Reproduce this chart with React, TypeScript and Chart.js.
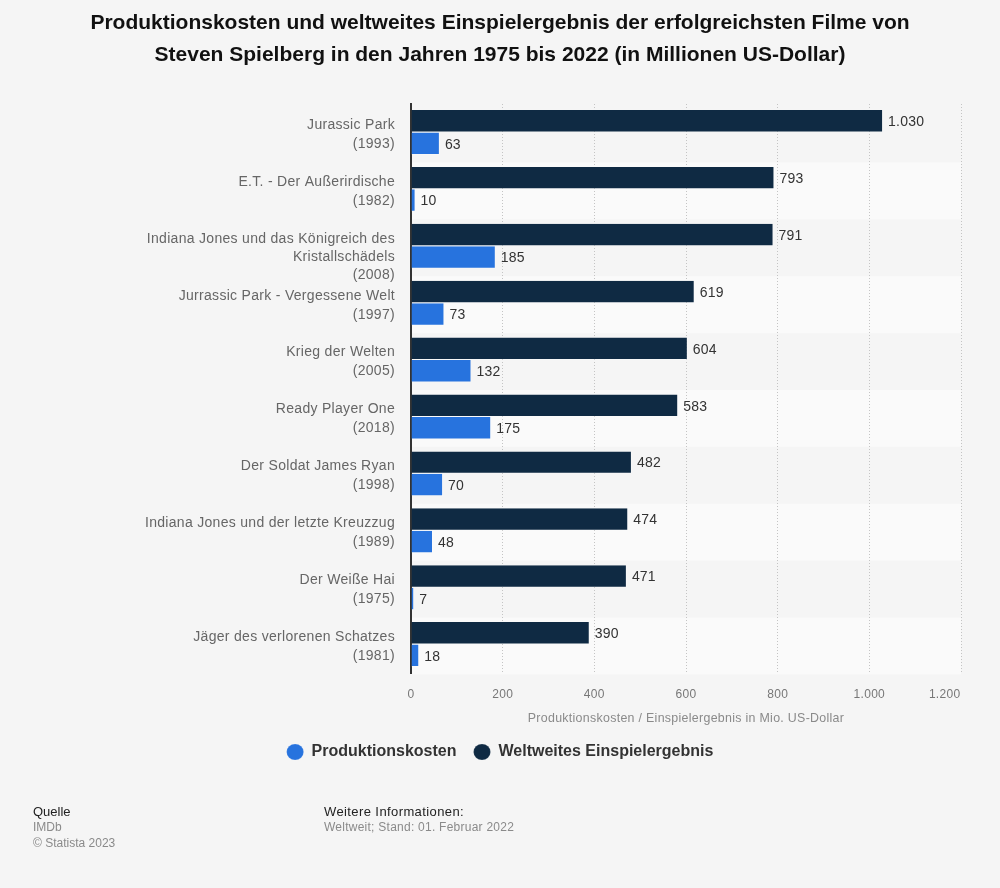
import React, { useEffect, useRef } from 'react';
import Chart from 'chart.js/auto';

const titleLines = [
    'Produktionskosten und weltweites Einspielergebnis der erfolgreichsten Filme von',
    'Steven Spielberg in den Jahren 1975 bis 2022 (in Millionen US-Dollar)',
];
const films = [
    ['Jurassic Park', '(1993)'],
    ['E.T. - Der Außerirdische', '(1982)'],
    // leading empty line: the reference hangs this label from the top of its row
    ['', 'Indiana Jones und das Königreich des', 'Kristallschädels', '(2008)'],
    ['Jurrassic Park - Vergessene Welt', '(1997)'],
    ['Krieg der Welten', '(2005)'],
    ['Ready Player One', '(2018)'],
    ['Der Soldat James Ryan', '(1998)'],
    ['Indiana Jones und der letzte Kreuzzug', '(1989)'],
    ['Der Weiße Hai', '(1975)'],
    ['Jäger des verlorenen Schatzes', '(1981)'],
];
const einspielergebnis = [1030, 793, 791, 619, 604, 583, 482, 474, 471, 390];
const produktionskosten = [63, 10, 185, 73, 132, 175, 70, 48, 7, 18];
const xTicks = [0, 200, 400, 600, 800, 1000, 1200];

const TRACKING = '0.3px';
const formatDe = (v: number) => String(v).replace(/\B(?=(\d{3})+$)/g, '.');

// axis text runs a little wider than plain canvas text, title and legend don't
const trackingPlugin = {
    id: 'tracking',
    beforeLayout(chart: any) {
        const ctx = chart.ctx;
        ctx.letterSpacing = TRACKING;
        [chart.titleBlock, chart.legend].forEach((box: any) => {
            if (!box || box.__tracked) return;
            box.__tracked = true;
            ['fit', 'draw'].forEach((fn) => {
                const orig = box[fn];
                box[fn] = function (...args: any[]) {
                    ctx.letterSpacing = '0px';
                    const res = orig.apply(this, args);
                    ctx.letterSpacing = TRACKING;
                    return res;
                };
            });
        });
    },
};

// alternating row backgrounds behind the grid
const bandsPlugin = {
    id: 'bands',
    beforeDraw(chart: any) {
        const { ctx, chartArea, scales } = chart;
        const y = scales.y;
        const step = y.getPixelForValue(1) - y.getPixelForValue(0);
        ctx.save();
        ctx.fillStyle = '#fafafa';
        films.forEach((_, i) => {
            if (i % 2 === 1) {
                ctx.fillRect(chartArea.left, y.getPixelForValue(i) - step / 2 + 1.5, chartArea.width, step);
            }
        });
        ctx.restore();
    },
};

// value labels at the end of each bar
const valueLabels = {
    id: 'valueLabels',
    afterDatasetsDraw(chart: any) {
        const { ctx } = chart;
        ctx.save();
        ctx.letterSpacing = '0.2px';
        ctx.font = '14px "Liberation Sans"';
        ctx.fillStyle = '#333333';
        ctx.textBaseline = 'middle';
        ctx.textAlign = 'left';
        chart.data.datasets.forEach((ds: any, d: number) => {
            chart.getDatasetMeta(d).data.forEach((bar: any, i: number) => {
                ctx.fillText(formatDe(ds.data[i]), bar.x + 5, bar.y + 1);
            });
        });
        ctx.restore();
    },
};

const App: React.FC = () => {
    const chartRef = useRef<HTMLCanvasElement>(null);

    useEffect(() => {
        const ctx = chartRef.current?.getContext('2d');
        if (!ctx) return;
        const chart = new Chart(ctx, {
            type: 'bar',
            data: {
                labels: films,
                datasets: [
                    {
                        label: 'Weltweites Einspielergebnis',
                        data: einspielergebnis,
                        backgroundColor: '#0f2a43',
                        borderColor: 'rgba(255,255,255,0.25)',
                        borderWidth: { bottom: 1, right: 1 },
                    },
                    {
                        label: 'Produktionskosten',
                        data: produktionskosten,
                        backgroundColor: '#2773de',
                        borderColor: 'rgba(255,255,255,0.25)',
                        borderWidth: { bottom: 1, right: 1 },
                    },
                ],
            },
            options: {
                indexAxis: 'y',
                responsive: false,
                animation: false,
                devicePixelRatio: 1,
                layout: { padding: { left: 39, right: 39, bottom: 118 } },
                datasets: { bar: { categoryPercentage: 0.79, barPercentage: 1 } },
                scales: {
                    x: {
                        min: 0,
                        max: 1200,
                        grid: { color: '#c4c4c4', drawTicks: false },
                        border: { display: false, dash: [1, 2] },
                        afterBuildTicks(scale: any) {
                            scale.ticks = xTicks.map((value) => ({ value }));
                        },
                        afterFit(scale: any) {
                            scale.height = 54;
                            scale.paddingLeft = 0;
                            scale.paddingRight = 0;
                        },
                        ticks: {
                            autoSkip: false,
                            maxRotation: 0,
                            padding: 14,
                            color: '#777777',
                            font: { family: '"Liberation Sans"', size: 12 },
                            // last label sits flush with the right edge of the plot
                            callback: (v: any) => (v === 1200 ? formatDe(v) + ' '.repeat(9) : formatDe(v)),
                        },
                        title: {
                            display: true,
                            text: 'Produktionskosten / Einspielergebnis in Mio. US-Dollar',
                            color: '#8a8a8a',
                            font: { family: '"Liberation Sans"', size: 12.4 },
                            padding: { top: 0, bottom: 1 },
                        },
                    },
                    y: {
                        grid: { display: false, drawTicks: false },
                        border: { color: '#333333', width: 2 },
                        afterFit(scale: any) {
                            scale.width = 372;
                        },
                        ticks: {
                            padding: 16,
                            labelOffset: 2,
                            color: '#666666',
                            autoSkip: false,
                            font: (c: any) => ({
                                family: '"Liberation Sans"',
                                size: 14,
                                lineHeight: c.index === 2 ? 1.29 : 1.357,
                            }),
                        },
                    },
                },
                plugins: {
                    title: {
                        display: true,
                        text: titleLines,
                        color: '#111111',
                        font: { family: '"Liberation Sans"', size: 21, weight: 'bold', lineHeight: 1.524 },
                        padding: { top: 7, bottom: 33 },
                    },
                    legend: {
                        position: 'bottom',
                        reverse: true,
                        labels: {
                            usePointStyle: true,
                            pointStyle: 'circle',
                            pointStyleWidth: 17,
                            boxHeight: 11.3,
                            padding: 17,
                            color: '#333333',
                            font: { family: '"Liberation Sans"', size: 16, weight: 'bold' },
                        },
                    },
                    tooltip: { enabled: false },
                },
            },
            plugins: [trackingPlugin, bandsPlugin, valueLabels],
        } as any);

        return () => {
            chart.destroy();
        };
    }, []);

    const src: React.CSSProperties = { position: 'absolute', fontSize: 12, whiteSpace: 'nowrap' };

    return (
        <div style={{ position: 'absolute', left: 0, top: 0, width: 1000, height: 888, background: '#f5f5f5', fontFamily: '"Liberation Sans"', overflow: 'hidden' }}>
            <canvas ref={chartRef} width={1000} height={888} style={{ display: 'block' }} />
            <div style={{ ...src, left: 33, top: 804, color: '#222222', fontSize: 13 }}>Quelle</div>
            <div style={{ ...src, left: 33, top: 820, color: '#8a8a8a' }}>IMDb</div>
            <div style={{ ...src, left: 33, top: 836, color: '#8a8a8a' }}>© Statista 2023</div>
            <div style={{ ...src, left: 324, top: 804, color: '#222222', fontSize: 13, letterSpacing: 0.4 }}>Weitere Informationen:</div>
            <div style={{ ...src, left: 324, top: 820, color: '#8a8a8a', letterSpacing: 0.25 }}>Weltweit; Stand: 01. Februar 2022</div>
        </div>
    );
};

export default App;
